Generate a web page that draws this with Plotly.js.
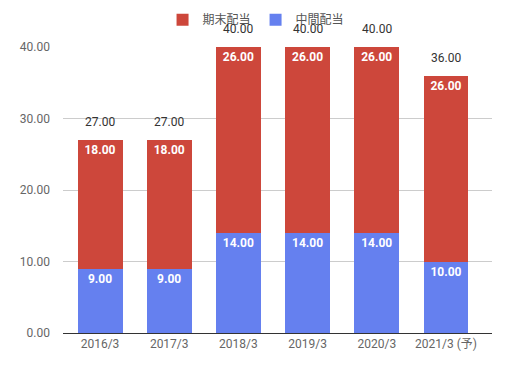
<!DOCTYPE html>
<html><head><meta charset="utf-8">
<script src="https://cdn.plot.ly/plotly-3.0.1.min.js"></script>
<style>html,body{margin:0;padding:0;background:#fff}#c{width:508px;height:367px}</style>
</head><body><div id="c"></div>
<script>
const categories = ["2016/3","2017/3","2018/3","2019/3","2020/3","2021/3 (予)"];
const interim = [9, 9, 14, 14, 14, 10];
const yearEnd = [18, 18, 26, 26, 26, 26];
const totals = [27, 27, 40, 40, 40, 36];
const yTicks = [0, 10, 20, 30, 40];

const fontFam = "Roboto, 'Noto Sans CJK JP', sans-serif";
const traces = [
  {type:'bar', name:'中間配当', x:categories, y:interim, marker:{color:'#6580ef'},
   text:interim.map(v=>v.toFixed(2)), textposition:'inside', insidetextanchor:'end',
   textfont:{color:'#fff', size:12, family:fontFam, weight:'bold'}, width:0.65, hoverinfo:'none'},
  {type:'bar', name:'期末配当', x:categories, y:yearEnd, marker:{color:'#cd473b'},
   text:yearEnd.map(v=>v.toFixed(2)), textposition:'inside', insidetextanchor:'end',
   textfont:{color:'#fff', size:12, family:fontFam, weight:'bold'}, width:0.65, hoverinfo:'none'}
];
const annotations = categories.map((c,i)=>({x:c, y:totals[i], text:totals[i].toFixed(2), showarrow:false,
  yanchor:'bottom', yshift:9, font:{size:12, color:'#333', family:fontFam}}));
const layout = {
  width:508, height:367, barmode:'stack', bargap:0.35,
  margin:{l:63, r:16, t:47, b:34, autoexpand:false},
  paper_bgcolor:'#fff', plot_bgcolor:'#fff',
  font:{family:fontFam, size:12, color:'#444'},
  showlegend:true,
  legend:{orientation:'h', x:0.45, xanchor:'center', y:1.045, yanchor:'bottom', yref:'paper',
    traceorder:'reversed', font:{size:12, color:'#555', family:fontFam}, itemwidth:30},
  xaxis:{type:'category', range:[-0.535, 5.665], showline:true, linecolor:'#333', linewidth:1,
    tickfont:{size:12, color:'#666'}, ticks:'', fixedrange:true},
  yaxis:{range:[0,40], tickvals:yTicks, ticktext:yTicks.map(v=>v.toFixed(2)), showgrid:true,
    gridcolor:'#ccc', zeroline:true, zerolinecolor:'#333', tickfont:{size:12, color:'#666'},
    ticks:'', ticklabelstandoff:12},
  annotations
};
Plotly.newPlot('c', traces, layout, {displayModeBar:false, staticPlot:true});
</script></body></html>
